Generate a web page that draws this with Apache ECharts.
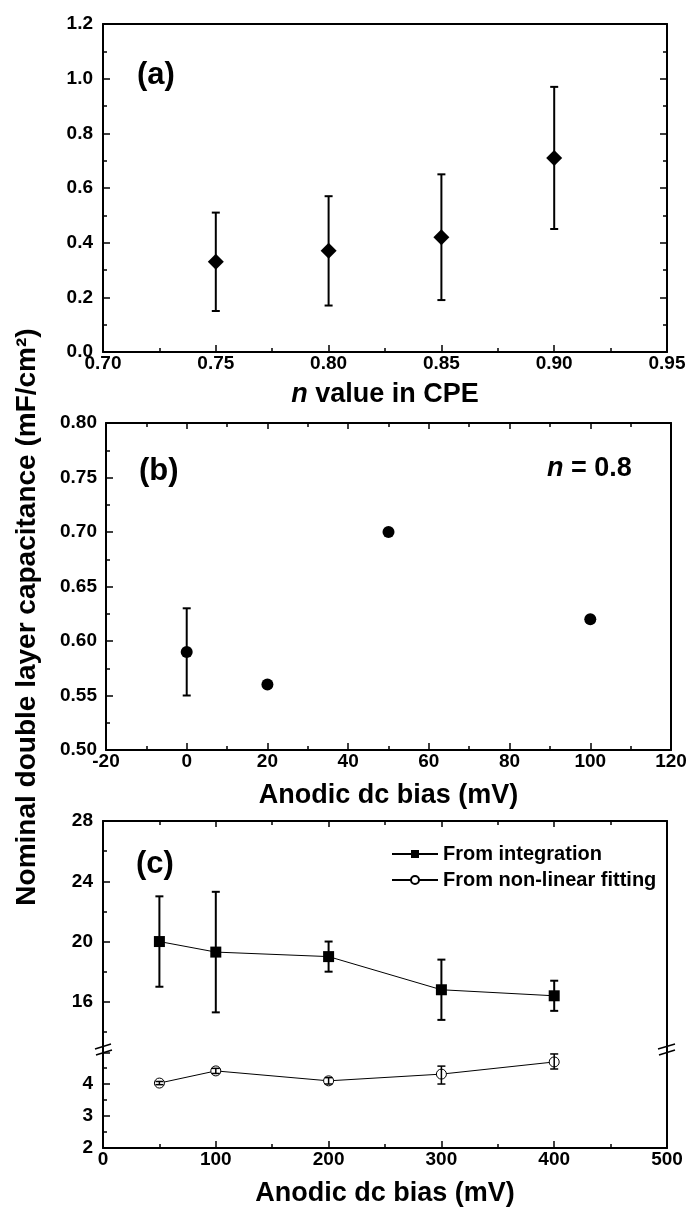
<!DOCTYPE html>
<html>
<head>
<meta charset="utf-8">
<script src="https://cdn.jsdelivr.net/npm/echarts@6/dist/echarts.min.js"></script>
<style>html,body{margin:0;padding:0;background:#fff}#c{width:690px;height:1209px}</style>
</head>
<body>
<div id="c"></div>
<script>
// ---- data ----
const aX = [0.75, 0.80, 0.85, 0.90];
const aY = [0.33, 0.37, 0.42, 0.71];
const aLow = [0.15, 0.17, 0.19, 0.45];
const aHigh = [0.51, 0.57, 0.65, 0.97];

const bX = [0, 20, 50, 100];
const bY = [0.59, 0.56, 0.70, 0.62];
const bErrX = [0];
const bLow = [0.55];
const bHigh = [0.63];

const cX = [50, 100, 200, 300, 400];
const cInt = [20.0, 19.3, 19.0, 16.8, 16.4];
const cIntLow = [17.0, 15.3, 18.0, 14.8, 15.4];
const cIntHigh = [23.0, 23.3, 20.0, 18.8, 17.4];
const cFit = [4.03, 4.41, 4.10, 4.31, 4.69];
const cFitLow = [3.98, 4.33, 4.00, 4.00, 4.47];
const cFitHigh = [4.08, 4.49, 4.20, 4.56, 4.94];

const cUpperMajor = [16, 20, 24, 28];
const cUpperMinor = [14, 18, 22, 26];
const seriesNames = ['From integration', 'From non-linear fitting'];

// ---- helpers ----
const FF = 'Liberation Sans, Arial, sans-serif';
const BLK = '#000';
const zip = (xs, ys) => xs.map((x, i) => [x, ys[i]]);
const zip3 = (xs, a, b) => xs.map((x, i) => [x, a[i], b[i]]);

function errRender(cap, lw) {
  return function (params, api) {
    const x = api.value(0), lo = api.value(1), hi = api.value(2);
    const p1 = api.coord([x, lo]), p2 = api.coord([x, hi]);
    const st = { stroke: BLK, lineWidth: lw };
    return {
      type: 'group',
      children: [
        { type: 'line', shape: { x1: p1[0], y1: p1[1], x2: p2[0], y2: p2[1] }, style: st },
        { type: 'line', shape: { x1: p1[0] - cap, y1: p1[1], x2: p1[0] + cap, y2: p1[1] }, style: st },
        { type: 'line', shape: { x1: p2[0] - cap, y1: p2[1], x2: p2[0] + cap, y2: p2[1] }, style: st }
      ]
    };
  };
}

const lineStyle = { color: BLK, width: 2 };
const labelStyle = { color: BLK, fontFamily: FF, fontWeight: 'bold', fontSize: 19 };
const nameStyleBase = { color: BLK, fontFamily: FF, fontWeight: 'bold', fontSize: 27 };
const tick = (show, len) => ({ show: show, inside: true, length: len || 7, lineStyle: { color: BLK, width: 1.5 } });
const minor = (show) => ({ show: show, splitNumber: 2, length: 4, lineStyle: { color: BLK, width: 1.5 } });

function axis(o) {
  return Object.assign({
    type: 'value',
    axisLine: { show: true, onZero: false, lineStyle: lineStyle },
    splitLine: { show: false },
    minorSplitLine: { show: false },
    nameMoveOverlap: false
  }, o);
}

const grids = [
  { left: 103, right: 23, top: 24, height: 328 },
  { left: 106, right: 19, top: 423, height: 327 },
  { left: 103, right: 23, top: 821, height: 223 },
  { left: 103, right: 23, top: 1053, height: 95 }
];

const xAxes = [
  axis({ gridIndex: 0, position: 'bottom', min: 0.70, max: 0.95, interval: 0.05,
    axisTick: tick(true), minorTick: minor(true),
    axisLabel: Object.assign({ margin: 2, formatter: v => v.toFixed(2) }, labelStyle),
    name: '{i|n}{r| value in CPE}', nameLocation: 'middle', nameGap: 29,
    nameTextStyle: { rich: { i: Object.assign({ fontStyle: 'italic' }, nameStyleBase), r: nameStyleBase } } }),
  axis({ gridIndex: 0, position: 'top', min: 0.70, max: 0.95, interval: 0.05,
    axisTick: { show: false }, axisLabel: { show: false } }),
  axis({ gridIndex: 1, position: 'bottom', min: -20, max: 120, interval: 20,
    axisTick: tick(true), minorTick: minor(true),
    axisLabel: Object.assign({ margin: 2 }, labelStyle),
    name: 'Anodic dc bias (mV)', nameLocation: 'middle', nameGap: 32, nameTextStyle: nameStyleBase }),
  axis({ gridIndex: 1, position: 'top', min: -20, max: 120, interval: 20,
    axisTick: tick(true, 6), minorTick: minor(true), axisLabel: { show: false } }),
  axis({ gridIndex: 2, position: 'top', min: 0, max: 500, interval: 100,
    axisTick: tick(true, 6), minorTick: minor(true), axisLabel: { show: false } }),
  axis({ gridIndex: 3, position: 'bottom', min: 0, max: 500, interval: 100,
    axisTick: tick(true), minorTick: minor(true),
    axisLabel: Object.assign({ margin: 2 }, labelStyle),
    name: 'Anodic dc bias (mV)', nameLocation: 'middle', nameGap: 32, nameTextStyle: nameStyleBase })
];

const yAxes = [
  axis({ gridIndex: 0, position: 'left', min: 0, max: 1.2, interval: 0.2,
    axisTick: tick(true), minorTick: minor(true),
    axisLabel: Object.assign({ margin: 10, formatter: v => v.toFixed(1) }, labelStyle) }),
  axis({ gridIndex: 0, position: 'right', min: 0, max: 1.2, interval: 0.2,
    axisTick: tick(true), minorTick: minor(true), axisLabel: { show: false } }),
  axis({ gridIndex: 1, position: 'left', min: 0.5, max: 0.8, interval: 0.05,
    axisTick: tick(true), minorTick: minor(true),
    axisLabel: Object.assign({ margin: 9, formatter: v => v.toFixed(2) }, labelStyle) }),
  axis({ gridIndex: 1, position: 'right', min: 0.5, max: 0.8, interval: 0.05,
    axisTick: { show: false }, axisLabel: { show: false } }),
  axis({ gridIndex: 2, position: 'left', min: 13.2, max: 28,
    axisTick: Object.assign(tick(true), { customValues: cUpperMajor }),
    axisLabel: Object.assign({ margin: 10, customValues: cUpperMajor }, labelStyle) }),
  axis({ gridIndex: 2, position: 'left', min: 13.2, max: 28, axisLine: { show: false, onZero: false },
    axisTick: Object.assign(tick(true, 4), { customValues: cUpperMinor }),
    axisLabel: { show: false } }),
  axis({ gridIndex: 2, position: 'right', min: 13.2, max: 28,
    axisTick: { show: false }, axisLabel: { show: false } }),
  axis({ gridIndex: 3, position: 'left', min: 2, max: 4.97, interval: 1,
    axisTick: tick(true), minorTick: minor(true),
    axisLabel: Object.assign({ margin: 10, showMaxLabel: false }, labelStyle) }),
  axis({ gridIndex: 3, position: 'right', min: 2, max: 4.97, interval: 1,
    axisTick: { show: false }, axisLabel: { show: false } })
];

const textStyle = (size, extra) => Object.assign({ fill: BLK, fontFamily: FF, fontWeight: 'bold', fontSize: size }, extra || {});

const option = {
  animation: false,
  backgroundColor: '#fff',
  grid: grids,
  xAxis: xAxes,
  yAxis: yAxes,
  legend: {
    orient: 'vertical', left: 386, top: 839, itemWidth: 46, itemHeight: 10, itemGap: 6,
    data: seriesNames,
    textStyle: { color: BLK, fontFamily: FF, fontWeight: 'bold', fontSize: 20 }
  },
  series: [
    { type: 'scatter', xAxisIndex: 0, yAxisIndex: 0, symbol: 'diamond', symbolSize: 16,
      itemStyle: { color: BLK, opacity: 1 }, data: zip(aX, aY), z: 3 },
    { type: 'custom', xAxisIndex: 0, yAxisIndex: 0, renderItem: errRender(4, 2),
      encode: { x: 0, y: [1, 2] }, data: zip3(aX, aLow, aHigh), z: 2 },
    { type: 'scatter', xAxisIndex: 2, yAxisIndex: 2, symbol: 'circle', symbolSize: 12,
      itemStyle: { color: BLK, opacity: 1 }, data: zip(bX, bY), z: 3 },
    { type: 'custom', xAxisIndex: 2, yAxisIndex: 2, renderItem: errRender(4, 2),
      encode: { x: 0, y: [1, 2] }, data: zip3(bErrX, bLow, bHigh), z: 2 },
    { name: seriesNames[0], type: 'line', xAxisIndex: 4, yAxisIndex: 4, symbol: 'rect', symbolSize: 11,
      itemStyle: { color: BLK }, lineStyle: { color: BLK, width: 1 }, data: zip(cX, cInt), z: 3 },
    { type: 'custom', xAxisIndex: 4, yAxisIndex: 4, renderItem: errRender(4, 2),
      encode: { x: 0, y: [1, 2] }, data: zip3(cX, cIntLow, cIntHigh), z: 2 },
    { name: seriesNames[1], type: 'line', xAxisIndex: 5, yAxisIndex: 7, symbol: 'circle', symbolSize: 10,
      itemStyle: { color: '#fff', borderColor: BLK, borderWidth: 1 }, lineStyle: { color: BLK, width: 1 },
      data: zip(cX, cFit), z: 3 },
    { type: 'custom', xAxisIndex: 5, yAxisIndex: 7, renderItem: errRender(4, 1.5),
      encode: { x: 0, y: [1, 2] }, data: zip3(cX, cFitLow, cFitHigh), z: 4 }
  ],
  graphic: [
    { type: 'text', left: 137, top: 60, style: textStyle(31, { text: '(a)' }) },
    { type: 'text', left: 139, top: 456, style: textStyle(31, { text: '(b)' }) },
    { type: 'text', left: 136, top: 849, style: textStyle(31, { text: '(c)' }) },
    { type: 'text', left: 547, top: 455, style: {
        text: '{i|n}{r| = 0.8}',
        rich: { i: textStyle(27, { fontStyle: 'italic' }), r: textStyle(27) } } },
    { type: 'text', x: 27, y: 617, rotation: Math.PI / 2,
      style: textStyle(28, { text: 'Nominal double layer capacitance (mF/cm²)', textAlign: 'center', textVerticalAlign: 'middle' }) },
    // axis break connectors and marks
    { type: 'line', shape: { x1: 103, y1: 1043, x2: 103, y2: 1054 }, style: { stroke: BLK, lineWidth: 2 } },
    { type: 'line', shape: { x1: 667, y1: 1043, x2: 667, y2: 1054 }, style: { stroke: BLK, lineWidth: 2 } },
    { type: 'line', shape: { x1: 95, y1: 1049, x2: 111, y2: 1044 }, style: { stroke: BLK, lineWidth: 1.5 } },
    { type: 'line', shape: { x1: 96, y1: 1055, x2: 112, y2: 1050 }, style: { stroke: BLK, lineWidth: 1.5 } },
    { type: 'line', shape: { x1: 658, y1: 1049, x2: 675, y2: 1044 }, style: { stroke: BLK, lineWidth: 1.5 } },
    { type: 'line', shape: { x1: 659, y1: 1055, x2: 675, y2: 1050 }, style: { stroke: BLK, lineWidth: 1.5 } }
  ]
};

const chart = echarts.init(document.getElementById('c'), null, { renderer: 'canvas' });
chart.setOption(option);
</script>
</body>
</html>
